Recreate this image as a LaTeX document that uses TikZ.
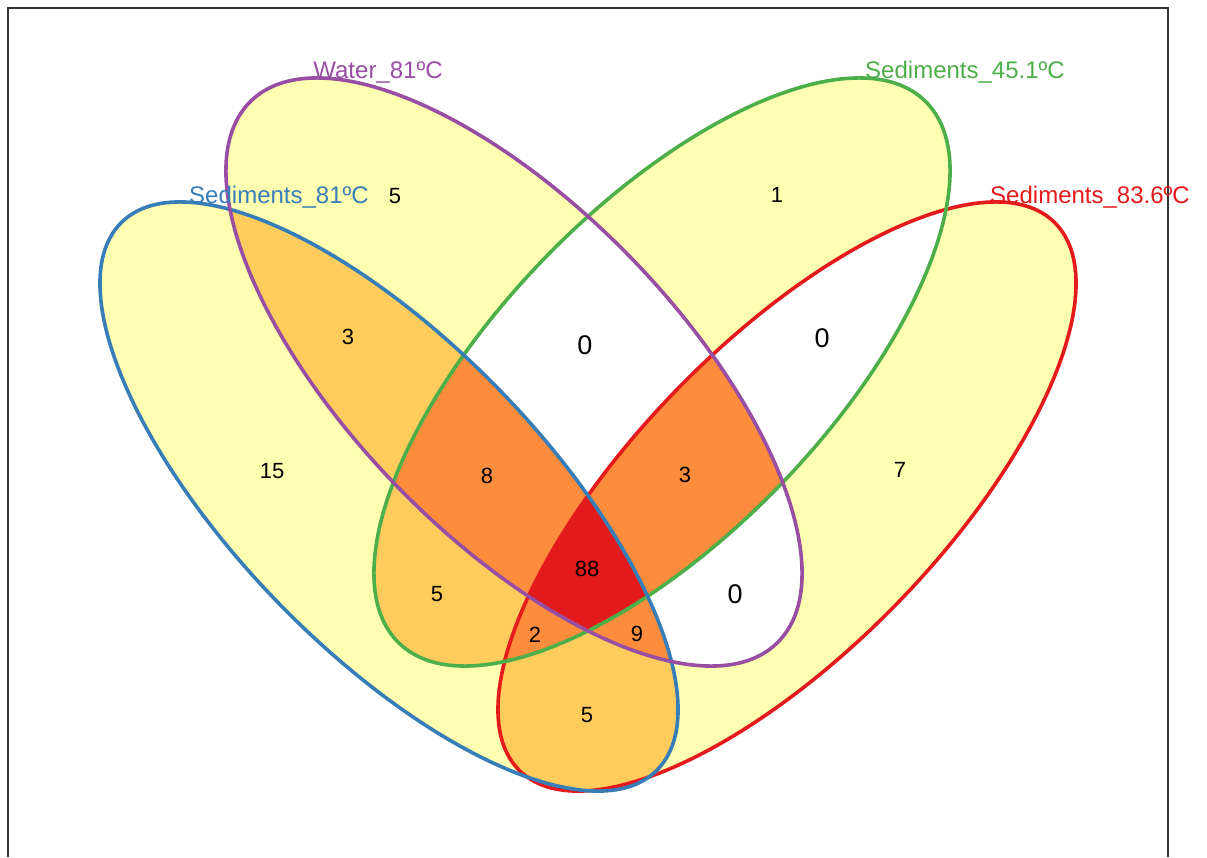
\documentclass[tikz,border=0pt]{standalone}
\usepackage{fontspec}
\setmainfont{Liberation Sans}
\definecolor{cB}{HTML}{377EB8}
\definecolor{cP}{HTML}{984EA3}
\definecolor{cG}{HTML}{4DAF4A}
\definecolor{cR}{HTML}{E41A1C}
\definecolor{one}{HTML}{FFFFB2}
\definecolor{two}{HTML}{FECC5C}
\definecolor{three}{HTML}{FD8D3C}
\definecolor{four}{HTML}{E31A1C}
\newcommand{\venB}[1][]{\path[#1, rotate around={-45.75:(389,496.5)}] (389,496.5) ellipse (383 and 153.5);}
\newcommand{\venP}[1][]{\path[#1, rotate around={-45.86:(514,372)}] (514,372) ellipse (377.7 and 163.5);}
\newcommand{\venG}[1][]{\path[#1, rotate around={45.86:(662,372)}] (662,372) ellipse (377.7 and 163.5);}
\newcommand{\venR}[1][]{\path[#1, rotate around={45.75:(787,496.5)}] (787,496.5) ellipse (383 and 153.5);}

\begin{document}
\begin{tikzpicture}[
  x=1pt, y=-1pt,
  lbl/.style={font=\fontsize{24}{24}\selectfont, inner sep=0pt, anchor=base},
  num/.style={font=\fontsize{22}{22}\selectfont, inner sep=0pt},
  zero/.style={font=\fontsize{27}{27}\selectfont, inner sep=0pt},
  outline/.style={line width=3.6pt}
]
  \useasboundingbox (0,0) rectangle (1207,857);

  % single sets
  \venB[fill=one] \venP[fill=one] \venG[fill=one] \venR[fill=one]
  % pairs
  \begin{scope}\venB[clip] \venP[fill=two] \end{scope}
  \begin{scope}\venB[clip] \venG[fill=two] \end{scope}
  \begin{scope}\venB[clip] \venR[fill=two] \end{scope}
  \begin{scope}\venP[clip] \venG[fill=white] \end{scope}
  \begin{scope}\venP[clip] \venR[fill=white] \end{scope}
  \begin{scope}\venG[clip] \venR[fill=white] \end{scope}
  % triples
  \begin{scope}\venB[clip] \venP[clip] \venG[fill=three] \end{scope}
  \begin{scope}\venB[clip] \venP[clip] \venR[fill=three] \end{scope}
  \begin{scope}\venB[clip] \venG[clip] \venR[fill=three] \end{scope}
  \begin{scope}\venP[clip] \venG[clip] \venR[fill=three] \end{scope}
  \begin{scope}\venB[clip] \venP[clip] \venG[clip] \venR[fill=four] \end{scope}

  \venR[draw=cR, outline] \venG[draw=cG, outline] \venB[draw=cB, outline] \venP[draw=cP, outline]

  \draw[line width=1.5pt, black!80] (8,857) -- (8,8) -- (1168,8) -- (1168,857);

  \node[lbl, text=cP] (lblWater) at (378,78) {Water\_81ºC};
  \node[lbl, text=cG] (lblSed45) at (965,78) {Sediments\_45.1ºC};
  \node[lbl, text=cB] (lblSed81) at (279,203) {Sediments\_81ºC};
  \node[lbl, text=cR] (lblSed836) at (1090,203) {Sediments\_83.6ºC};

  \node[num] (nP) at (395,196) {5};
  \node[num] (nG) at (777,195) {1};
  \node[num] (nBP) at (348,337) {3};
  \node[zero] (nPG) at (585,345) {0};
  \node[zero] (nGR) at (822,338) {0};
  \node[num] (nB) at (272,471) {15};
  \node[num] (nBPG) at (487,476) {8};
  \node[num] (nPGR) at (685,475) {3};
  \node[num] (nR) at (900,470) {7};
  \node[num] (nAll) at (587,569) {88};
  \node[num] (nBG) at (437,594) {5};
  \node[zero] (nPR) at (735,594) {0};
  \node[num] (nBGR) at (535,635) {2};
  \node[num] (nBPR) at (637,634) {9};
  \node[num] (nBR) at (587,715) {5};
\end{tikzpicture}
\end{document}
